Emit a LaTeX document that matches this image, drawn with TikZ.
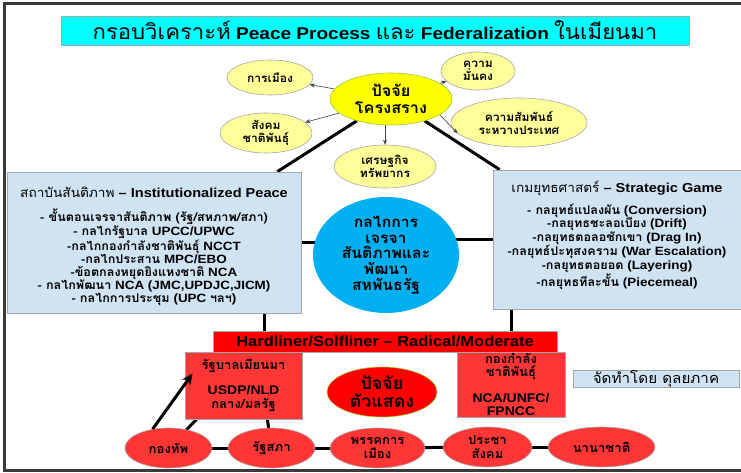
\documentclass[tikz,border=0pt]{standalone}
\usepackage{fontspec}
\setmainfont{Liberation Sans}[FakeStretch=1.12]
\newfontfamily\thf[Script=Thai,FakeStretch=1.05]{Loma}
\newfontfamily\thfT[Script=Thai,FakeStretch=1.05,Scale=1.24]{Loma}
\newcommand{\tha}[1]{{\thf #1}}
\usetikzlibrary{shapes.geometric,backgrounds,arrows.meta}
\definecolor{tcyan}{HTML}{00FFFF}
\definecolor{lyel}{HTML}{FFFF99}
\definecolor{yel}{HTML}{FFFF00}
\definecolor{ygreen}{HTML}{99CC33}
\definecolor{lblue}{HTML}{CFE3F3}
\definecolor{sky}{HTML}{00B0F0}
\definecolor{redA}{HTML}{FF0000}
\definecolor{redB}{HTML}{FF3636}
\definecolor{bgray}{HTML}{A6A6A6}
\definecolor{frm}{HTML}{3A3A3A}
\begin{document}
\begin{tikzpicture}[x=1pt,y=-1pt,
  ell/.style={ellipse, inner sep=0pt, align=center},
  yell/.style={ell, draw=bgray, fill=lyel, line width=0.6pt, font=\bfseries\fontsize{11.5}{13}\selectfont\thf},
  rell/.style={ell, draw=bgray, fill=redB, line width=0.6pt, font=\bfseries\fontsize{12.5}{14}\selectfont\thf},
  bluebox/.style={rectangle, draw=bgray, fill=lblue, line width=0.8pt, inner sep=0pt},
  redbox/.style={rectangle, draw=bgray, fill=redB, line width=0.8pt, inner sep=0pt, align=center},
  link/.style={line width=3pt, black},
  arr/.style={line width=0.6pt, draw=black!75, -{Stealth[length=5pt,width=4pt]}},
  listtxt/.style={align=center, inner sep=0pt, font=\bfseries\fontsize{12}{12.8}\selectfont},
]
\useasboundingbox (0,0) rectangle (741,473);

% title
\node[draw=bgray, fill=tcyan, minimum width=628pt, minimum height=29pt, inner sep=0pt,
  font=\fontsize{17}{19}\selectfont] (title) at (375,30.5)
  {{\thfT กรอบวิเคราะห์} \textbf{Peace Process} {\thfT และ} \textbf{Federalization} {\thfT ในเมียนมา}};

% structural factors
\node[ell, draw=ygreen, fill=yel, line width=0.6pt, minimum width=122pt, minimum height=52pt,
  font=\bfseries\fontsize{15.5}{17}\selectfont\thf] (ys) at (391,99) {ปัจจัย\\โครงสราง};
\node[yell, minimum width=86pt, minimum height=35pt] (pol) at (270,77.5) {การเมือง};
\node[yell, minimum width=74pt, minimum height=38pt] (sec) at (478,71) {ความ\\มั่นคง};
\node[yell, minimum width=136pt, minimum height=49pt] (intl) at (519,122.5) {ความสัมพันธ์\\ระหวางประเทศ};
\node[yell, minimum width=92pt, minimum height=40pt] (soc) at (266,133) {สังคม\\ชาติพันธุ์};
\node[yell, minimum width=102pt, minimum height=43pt] (econ) at (385,166.5) {เศรษฐกิจ\\ทรัพยากร};

% boxes
\node[bluebox, minimum width=294pt, minimum height=141pt] (lbox) at (154,242.5) {};
\node[inner sep=0pt, font=\fontsize{13}{15}\selectfont] (ltitle) at (154,192)
  {\tha{สถาบันสันติภาพ} \textbf{– Institutionalized Peace}};
\node[listtxt] (llist) at (154,257.5)
  {\tha{- ขั้นตอนเจรจาสันติภาพ (รัฐ/สหภาพ/สภา)}\\
   \tha{- กลไกรัฐบาล} UPCC/UPWC\\
   \tha{-กลไกกองกำลังชาติพันธุ์} NCCT\\
   \tha{-กลไกประสาน} MPC/EBO\\
   \tha{-ข้อตกลงหยุดยิงแหงชาติ} NCA\\
   \tha{- กลไกพัฒนา} NCA (JMC,UPDJC,JICM)\\
   \tha{- กลไกการประชุม} (UPC \tha{ฯลฯ})};

\node[bluebox, minimum width=248pt, minimum height=139pt] (rbox) at (617,239.5) {};
\node[inner sep=0pt, font=\fontsize{13}{15}\selectfont] (rtitle) at (617,188)
  {\tha{เกมยุทธศาสตร์} \textbf{– Strategic Game}};
\node[listtxt, font=\bfseries\fontsize{12}{13.4}\selectfont] (rlist) at (617,246.5)
  {\tha{- กลยุทธ์แปลงผัน} (Conversion)\\
   \tha{-กลยุทธชะลอเบียง} (Drift)\\
   \tha{-กลยุทธตอลอชักเขา} (Drag In)\\
   \tha{-กลยุทธ์ปะทุสงคราม} (War Escalation)\\
   \tha{-กลยุทธตอยอด} (Layering)\\
   \tha{-กลยุทธทีละขั้น} (Piecemeal)};

\node[ell, fill=sky, minimum width=146pt, minimum height=116pt,
  font=\bfseries\fontsize{15}{15.75}\selectfont\thf] (blue) at (386,255)
  {กลไกการ\\เจรจา\\สันติภาพและ\\พัฒนา\\สหพันธรัฐ};

% actors
\node[rectangle, draw=bgray, fill=redA, line width=0.8pt, minimum width=344pt, minimum height=21pt,
  inner sep=0pt, font=\bfseries\fontsize{14.7}{16}\selectfont] (bar) at (385,341.5)
  {Hardliner/Solfliner – Radical/Moderate};
\node[redbox, minimum width=117pt, minimum height=67pt, font=\bfseries\fontsize{12.5}{14.5}\selectfont] (gov) at (243.5,385.5)
  {\tha{รัฐบาลเมียนมา}\\[10pt]USDP/NLD\\\tha{กลาง/มลรัฐ}};
\node[redbox, minimum width=108pt, minimum height=65pt, font=\bfseries\fontsize{12.5}{13}\selectfont] (eth) at (511,384.5)
  {\tha{กองกำลัง}\\\tha{ชาติพันธุ์}\\[13pt]NCA/UNFC/\\FPNCC};
\node[ell, draw=ygreen, fill=redA, line width=0.6pt, minimum width=110pt, minimum height=50pt,
  font=\bfseries\fontsize{17}{18}\selectfont\thf] (actor) at (382,392) {ปัจจัย\\ตัวแสดง};

\node[rell, minimum width=87pt, minimum height=40pt] (army) at (168.5,448) {กองทัพ};
\node[rell, minimum width=87pt, minimum height=40pt] (parl) at (271.5,448) {รัฐสภา};
\node[rell, minimum width=95pt, minimum height=40pt] (party) at (377.5,448) {พรรคการ\\เมือง};
\node[rell, minimum width=89pt, minimum height=40pt] (civ) at (487.5,447) {ประชา\\สังคม};
\node[rell, minimum width=107pt, minimum height=40pt] (nat) at (601.5,447) {นานาชาติ};

\node[rectangle, draw=bgray, fill=lblue, line width=0.8pt, minimum width=166pt, minimum height=14pt,
  inner sep=0pt, font=\fontsize{14.5}{15}\selectfont\thf] (credit) at (656,379) {จัดทำโดย ดุลยภาค};

% background and connectors behind
\begin{scope}[on background layer]
  \fill[white] (0,0) rectangle (741,473);
  \draw[frm, line width=3pt] (4,4) rectangle (760,470);
  \draw[link] (ys) -- ([xshift=-24pt]lbox.north east);
  \draw[link] (ys) -- ([xshift=7pt]rbox.north west);
  \draw[link] (lbox.east) -- (lbox.east -| blue.center);
  \draw[link] (rbox.west) -- (rbox.west -| blue.center);
  \draw[link] ([xshift=-37pt]lbox.south east) coordinate (la) -- (la |- bar.center);
  \draw[link] ([xshift=19pt]rbox.south west) coordinate (ra) -- (ra |- bar.center);
  \draw[link] ([xshift=12pt]gov.south west) -- (army.center);
  \draw[link] ([xshift=-35pt]gov.south east) -- (parl.center);
  \draw[link] (army.center) -- (parl.center);
  \draw[link] (parl.center) -- (party.center);
  \draw[link] (party.center) -- (civ.center);
  \draw[link] (civ.center) -- (nat.center);
\end{scope}

% thin arrows
\draw[arr] (ys) -- (pol);
\draw[arr] (ys) -- (soc);
\draw[arr] (ys) -- (sec);
\draw[arr] (ys.-18) -- (intl.190);
\draw[arr] (econ.north |- ys.south) -- (econ.north);

% thick arrow army -> government
\draw[line width=3pt, -{Stealth[length=11pt,width=10pt]}] (army.130) -- ([xshift=8pt,yshift=12pt]gov.west);
\end{tikzpicture}
\end{document}
